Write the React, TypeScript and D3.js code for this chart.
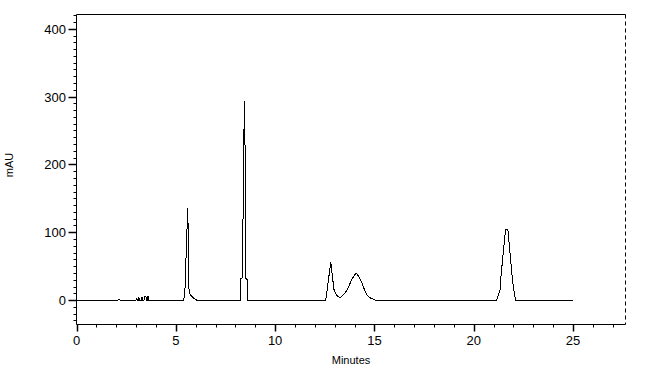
import React from "react";
import * as d3 from "d3";

const times = [
  0, 2.1, 2.15, 2.2, 3.0, 3.02, 3.06, 3.12, 3.14, 3.18, 3.28, 3.3, 3.34, 3.4, 3.42, 3.5, 3.52, 3.56, 3.58, 3.62, 3.64,
  5.4, 5.46, 5.6, 5.63, 5.65, 5.69, 5.79, 5.89, 6.04,
  8.25, 8.27, 8.35, 8.45, 8.51, 8.53, 8.61, 8.63,
  12.55, 12.62, 12.8, 12.96, 13.05, 13.18, 13.29, 13.45, 13.63, 13.85, 14.08, 14.2, 14.38, 14.5, 14.64, 14.8, 15.05,
  21.15, 21.33, 21.36, 21.6, 21.72, 21.94, 22.02, 22.1, 25,
];
const signal = [
  0, 0, 1.5, 0, 0, 2, 0, 0, 4, 0, 0, 4.5, 0, 0, 5, 5, 0, 0, 5, 5, 0,
  0, 15, 136, 90, 20, 10, 6, 3, 0,
  0, 32, 33, 293, 180, 32, 30, 0,
  0, 15, 56, 16, 9, 5, 4, 8, 15, 30, 40, 35, 25, 15, 7, 3, 0,
  0, 15, 32, 104, 104, 32, 15, 0, 0,
];
const yMajorTicks = [0, 100, 200, 300, 400];
const xMajorTicks = [0, 5, 10, 15, 20, 25];
const yLabel = "mAU";
const xLabel = "Minutes";

export default function App() {
  const W = 652, H = 369;
  const left = 76.5, right = 625.5, top = 14.5, bottom = 324.5;
  const x = d3.scaleLinear().domain([0, 27.64]).range([left, right]);
  const y = d3.scaleLinear().domain([-36, 421]).range([bottom, top]);
  const pts: [number, number][] = times.map((t, i) => [t, signal[i]]);
  const line = d3.line<[number, number]>().x((d) => x(d[0])).y((d) => y(d[1]));
  const yMinor = d3.range(-30, 421, 10).filter((v) => v % 100 !== 0);
  const xMinor = d3.range(0, 28, 1).filter((v) => v % 5 !== 0);
  const font = "Liberation Sans, Arial, sans-serif";
  return (
    <svg width={W} height={H} style={{ position: "absolute", left: 0, top: 0 }}>
      <rect x={0} y={0} width={W} height={H} fill="#fff" />
      <path d={line(pts) || ""} fill="none" stroke="#000" strokeWidth={1} shapeRendering="crispEdges" />
      {/* frame */}
      <line x1={left} x2={right} y1={top} y2={top} stroke="#000" />
      <line x1={right} x2={right} y1={top} y2={bottom} stroke="#000" strokeDasharray="4,3" />
      <line x1={left} x2={left} y1={top} y2={bottom} stroke="#000" />
      <line x1={left} x2={right} y1={bottom} y2={bottom} stroke="#000" />
      {/* y ticks */}
      {yMinor.map((v) => (
        <line key={"ym" + v} x1={left - 3} x2={left} y1={Math.round(y(v)) + 0.5} y2={Math.round(y(v)) + 0.5} stroke="#000" />
      ))}
      {yMajorTicks.map((v) => (
        <g key={"y" + v}>
          <line x1={left - 8} x2={left} y1={Math.round(y(v)) + 0.5} y2={Math.round(y(v)) + 0.5} stroke="#000" strokeWidth={1.5} />
          <text x={66} y={y(v) + 5} textAnchor="end" fontFamily={font} fontSize={13} fill="#000">
            {v}
          </text>
        </g>
      ))}
      {/* x ticks */}
      {xMinor.map((v) => (
        <line key={"xm" + v} x1={Math.round(x(v)) + 0.5} x2={Math.round(x(v)) + 0.5} y1={bottom} y2={bottom + 3} stroke="#000" />
      ))}
      {xMajorTicks.map((v) => (
        <g key={"x" + v}>
          <line x1={Math.round(x(v)) + 0.5} x2={Math.round(x(v)) + 0.5} y1={bottom} y2={bottom + 7} stroke="#000" strokeWidth={1.5} />
          <text x={x(v)} y={345} textAnchor="middle" fontFamily={font} fontSize={13} fill="#000">
            {v}
          </text>
        </g>
      ))}
      <text x={(left + right) / 2} y={364} textAnchor="middle" fontFamily={font} fontSize={11} fill="#000">
        {xLabel}
      </text>
      <text transform={`translate(13, 165) rotate(-90)`} textAnchor="middle" fontFamily={font} fontSize={11} fill="#000">
        {yLabel}
      </text>
    </svg>
  );
}
